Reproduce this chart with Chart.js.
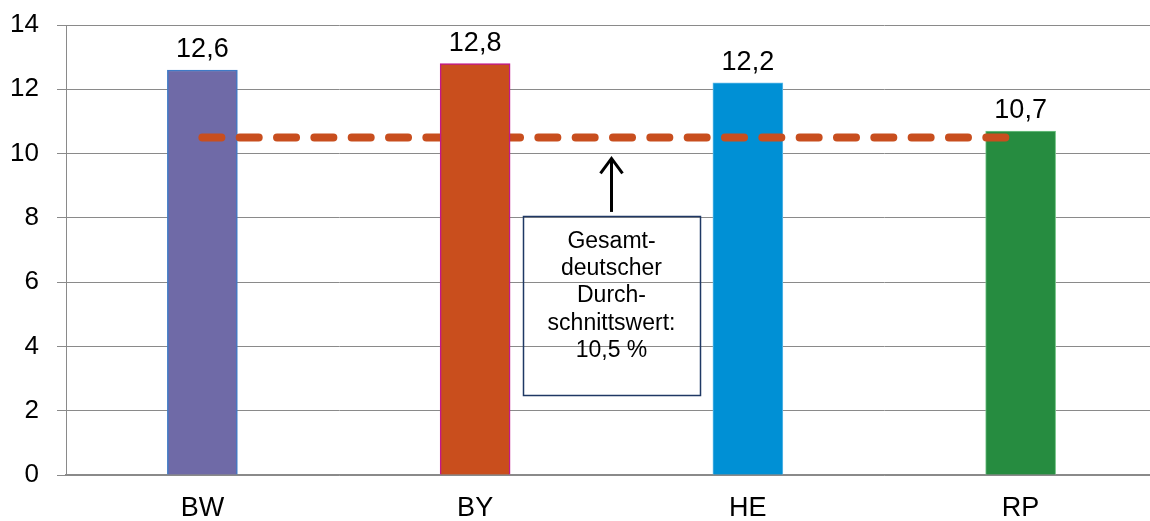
<!DOCTYPE html>
<html>
<head>
<meta charset="utf-8">
<script src="https://cdn.jsdelivr.net/npm/chart.js@4/dist/chart.umd.min.js"></script>
<style>
  html, body { margin: 0; padding: 0; overflow: hidden; background: #fff; width: 1150px; height: 521px; }
  #wrap { position: relative; width: 1157px; height: 521px; }
</style>
</head>
<body>
<div id="wrap"><canvas id="c" width="1157" height="521"></canvas></div>
<script>
// Regional share values (%) and the national average
const regions = ['BW', 'BY', 'HE', 'RP'];
const shares = [12.6, 12.8, 12.2, 10.7];
const shareLabels = ['12,6', '12,8', '12,2', '10,7'];
const nationalAverage = 10.5;
const averageNote = ['Gesamt-', 'deutscher', 'Durch-', 'schnittswert:', '10,5 %'];
const yMin = 0, yMax = 14, yStep = 2;

const FONT = '"Liberation Sans", Arial, Helvetica, sans-serif';
const fills = ['#6F6AA7', '#C94E1D', '#0090D5', '#268C40'];
const edges = ['#3F7AC6', '#C2188A', '#5DB9E8', '#74C487'];
const edgeWidths = [1.5, 1.5, 1, 1];

// BY is painted above the dashed average line, the other bars beneath it
const frontIdx = 1;
const backBars = shares.map((v, i) => (i === frontIdx ? null : v));
const frontBars = shares.map((v, i) => (i === frontIdx ? v : null));
const averageLine = regions.map(() => nationalAverage);

const valueLabels = {
  id: 'valueLabels',
  afterDatasetsDraw(chart) {
    const { ctx, scales: { x, y } } = chart;
    ctx.save();
    ctx.font = '27px ' + FONT;
    ctx.fillStyle = '#000';
    ctx.textAlign = 'center';
    ctx.textBaseline = 'alphabetic';
    shares.forEach((v, i) => {
      ctx.fillText(shareLabels[i], x.getPixelForValue(i), y.getPixelForValue(v) - 13);
    });
    ctx.restore();
  }
};

const averageCallout = {
  id: 'averageCallout',
  afterDatasetsDraw(chart) {
    const { ctx, scales: { x, y } } = chart;
    const cx = x.getPixelForValue(1.5);
    const halfW = (x.getPixelForValue(1) - x.getPixelForValue(0)) * 0.3245;
    const boxTop = y.getPixelForValue(8.06);
    const boxBottom = y.getPixelForValue(2.49);
    const tip = y.getPixelForValue(9.88);
    ctx.save();
    // arrow pointing up at the average line
    ctx.strokeStyle = '#000';
    ctx.lineWidth = 3;
    ctx.lineCap = 'butt';
    ctx.beginPath();
    ctx.moveTo(cx, boxTop - 4);
    ctx.lineTo(cx, tip + 1);
    ctx.stroke();
    ctx.lineJoin = 'miter';
    ctx.beginPath();
    ctx.moveTo(cx - 11, tip + 16);
    ctx.lineTo(cx, tip + 1);
    ctx.lineTo(cx + 11, tip + 16);
    ctx.stroke();
    // text frame
    ctx.strokeStyle = '#1F3864';
    ctx.lineWidth = 1.5;
    ctx.strokeRect(Math.round(cx - halfW) + 0.5, Math.round(boxTop) + 0.5,
                   Math.round(2 * halfW), Math.round(boxBottom - boxTop));
    ctx.fillStyle = '#000';
    ctx.font = '23px ' + FONT;
    ctx.textAlign = 'center';
    ctx.textBaseline = 'middle';
    averageNote.forEach((line, k) => {
      ctx.fillText(line, cx, boxTop + 26 + k * 27.1);
    });
    ctx.restore();
  }
};

new Chart(document.getElementById('c'), {
  data: {
    labels: regions,
    datasets: [
      {
        type: 'bar',
        data: backBars,
        backgroundColor: fills,
        borderColor: edges,
        borderWidth: edgeWidths,
        barThickness: 70,
        order: 3
      },
      {
        type: 'line',
        data: averageLine,
        borderColor: '#C84E1E',
        borderWidth: 8,
        borderDash: [19, 18.33],
        borderCapStyle: 'round',
        pointRadius: 0,
        fill: false,
        tension: 0,
        order: 2
      },
      {
        type: 'bar',
        data: frontBars,
        backgroundColor: fills,
        borderColor: edges,
        borderWidth: edgeWidths,
        barThickness: 70,
        order: 1
      }
    ]
  },
  options: {
    responsive: false,
    animation: false,
    events: [],
    layout: { padding: { top: 25, right: 0, bottom: 0, left: 0 } },
    plugins: { legend: { display: false }, tooltip: { enabled: false } },
    scales: {
      x: {
        stacked: true,
        z: 1,
        grid: { display: false, drawTicks: false, tickLength: 0 },
        border: { display: true, color: '#8a8a8a', width: 1.5 },
        ticks: { color: '#000', font: { family: FONT, size: 27 }, padding: 17, maxRotation: 0 },
        afterFit(scale) { scale.height = 46; scale.paddingLeft = 0; scale.paddingRight = 0; }
      },
      y: {
        stacked: false,
        min: yMin,
        max: yMax,
        ticks: { stepSize: yStep, color: '#000', font: { family: FONT, size: 26 }, padding: 18 },
        grid: { color: '#8a8a8a', lineWidth: 1, tickLength: 9, drawTicks: true },
        border: { display: true, color: '#8a8a8a', width: 1 },
        afterFit(scale) { scale.width = 66; scale.paddingTop = 0; scale.paddingBottom = 0; }
      }
    }
  },
  plugins: [valueLabels, averageCallout]
});
</script>
</body>
</html>
